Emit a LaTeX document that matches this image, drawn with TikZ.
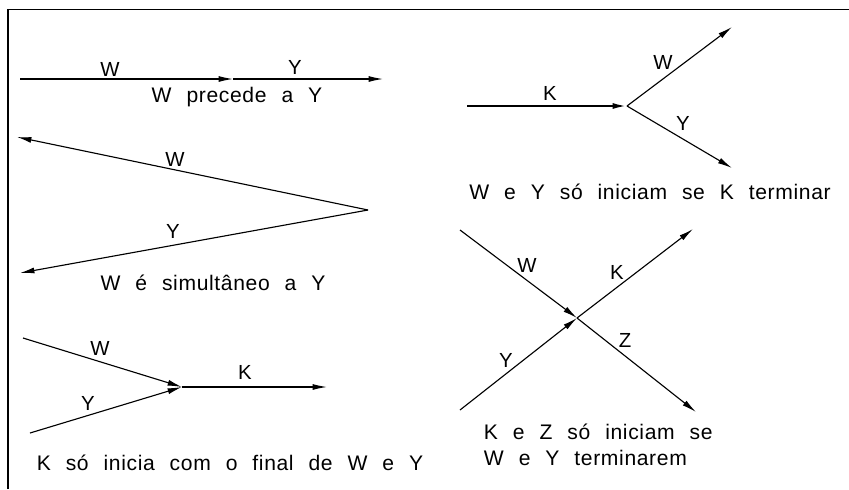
\documentclass[tikz,border=0pt]{standalone}
\usepackage{fontspec}
\setmainfont{Liberation Sans}[LetterSpace=3,WordSpace=2.3]
\usetikzlibrary{arrows.meta}

\begin{document}
\begin{tikzpicture}[
  x=0.025cm, y=-0.025cm, line width=.8pt,
  act/.style={draw=black, line width=.8pt, -{Latex[length=3.6mm,width=1.5mm]}},
  lbl/.style={font=\fontsize{14.5}{17}\selectfont, inner sep=1pt},
  captxt/.style={font=\fontsize{15}{18.5}\selectfont, inner sep=1pt},
]
  \useasboundingbox (0,0) rectangle (849,489);

  % Frame: only the top and left edges.
  \draw[line width=1.1pt] (8,489) -- (8,9.5) -- (849,9.5);

  % W precede a Y
  \coordinate (pW) at (20,79);
  \coordinate (pM) at (233,79);
  \coordinate (pY) at (383,79);
  \draw[act] (pW) -- (pM);
  \draw[act] (pM) -- (pY);
  \node[lbl] (pWl) at (110,69) {W};
  \node[lbl] (pYl) at (295,67) {Y};
  \node[captxt] (pcap) at (237,97) {W precede a Y};

  % W simultaneo a Y
  \coordinate (s0) at (368,210);
  \coordinate (sW) at (17,137);
  \coordinate (sY) at (20,273);
  \draw[act] (s0) -- (sW);
  \draw[act] (s0) -- (sY);
  \node[lbl] (sWl) at (175,159) {W};
  \node[lbl] (sYl) at (173,231) {Y};
  \node[captxt] (scap) at (213,283) {W é simultâneo a Y};

  % K so inicia com o final de W e Y
  \coordinate (jW) at (23,338);
  \coordinate (jY) at (30,433);
  \coordinate (j0) at (182,387);
  \coordinate (jK) at (327,387);
  \draw[act] (jW) -- (j0);
  \draw[act] (jY) -- (j0);
  \draw[act] (j0) -- (jK);
  \node[lbl] (jWl) at (100,348) {W};
  \node[lbl] (jYl) at (88,403) {Y};
  \node[lbl] (jKl) at (245,372) {K};
  \node[captxt] (jcap) at (230,463) {K só inicia com o final de W e Y};

  % W e Y so iniciam se K terminar
  \coordinate (fK) at (467,106);
  \coordinate (f0) at (627,106);
  \coordinate (fW) at (732,27);
  \coordinate (fY) at (732,168);
  \draw[act, line width=1.5pt] (fK) -- (f0);
  \draw[act] (f0) -- (fW);
  \draw[act] (f0) -- (fY);
  \node[lbl] (fKl) at (550,93) {K};
  \node[lbl] (fWl) at (663,62) {W};
  \node[lbl] (fYl) at (683,123) {Y};
  \node[captxt] (fcap) at (650,192) {W e Y só iniciam se K terminar};

  % K e Z so iniciam se W e Y terminarem
  \coordinate (xW) at (460,230);
  \coordinate (xY) at (460,410);
  \coordinate (x0) at (577,318);
  \coordinate (xK) at (693,229);
  \coordinate (xZ) at (696,412);
  \draw[act] (xW) -- (x0);
  \draw[act] (xY) -- (x0);
  \draw[act] (x0) -- (xK);
  \draw[act] (x0) -- (xZ);
  \node[lbl] (xWl) at (527,265) {W};
  \node[lbl] (xKl) at (617,272) {K};
  \node[lbl] (xZl) at (625,340) {Z};
  \node[lbl] (xYl) at (506,360) {Y};
  \node[captxt, align=left, anchor=west] (xcap) at (482,445)
    {K e Z só iniciam se\\W e Y terminarem};
\end{tikzpicture}
\end{document}
